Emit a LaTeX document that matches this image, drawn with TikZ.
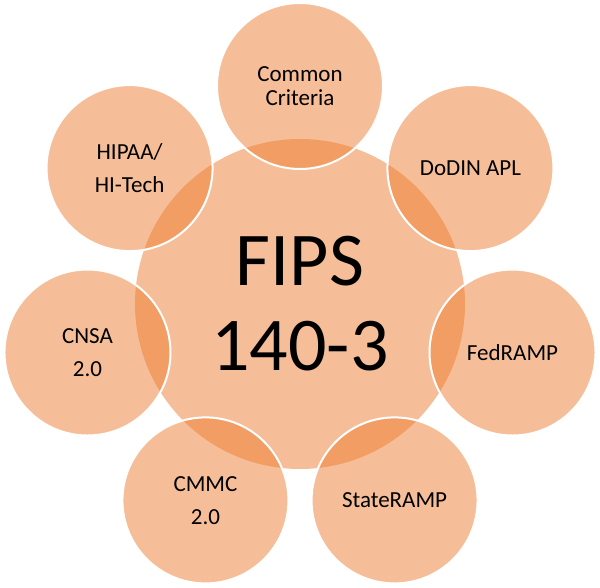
\documentclass[tikz,border=0pt]{standalone}
\usepackage{fontspec}
\setmainfont{Carlito}
\usepackage{xcolor}
\definecolor{fipsorange}{HTML}{ED7D31}

\begin{document}
\begin{tikzpicture}[
    x=1pt, y=1pt,
    hub/.style={circle, fill=fipsorange, fill opacity=0.5, text opacity=1, minimum size=330pt, inner sep=0pt, align=center},
    sat/.style={circle, draw=white, line width=2pt, fill=fipsorange, fill opacity=0.5, text opacity=1, minimum size=166pt, inner sep=0pt, align=center},
    every node/.append style={font=\fontsize{23}{33}\selectfont}
]
    \useasboundingbox (-300,-284) rectangle (300,304);

    % Centre
    \node[hub, font=\fontsize{76}{85}\selectfont] (fips) at (0,0) {FIPS\\140-3};

    % Standards around it
    \node[sat, font=\fontsize{23}{24}\selectfont] (cc) at (90:218) {Common\\Criteria};
    \node[sat] (dodin) 		at (38.57:218) 		{DoDIN APL};
    \node[sat] (fedramp) 	at (-12.86:218) 	{FedRAMP};
    \node[sat] (stateramp) 	at (-64.29:218) 	{StateRAMP};
    \node[sat] (cmmc) 		at (-115.71:218) 	{CMMC\\2.0};
    \node[sat] (cnsa) 		at (-167.14:218) 	{CNSA\\2.0};
    \node[sat] (hipaa) 		at (141.43:218) 	{HIPAA/\\HI-Tech};
\end{tikzpicture}
\end{document}
